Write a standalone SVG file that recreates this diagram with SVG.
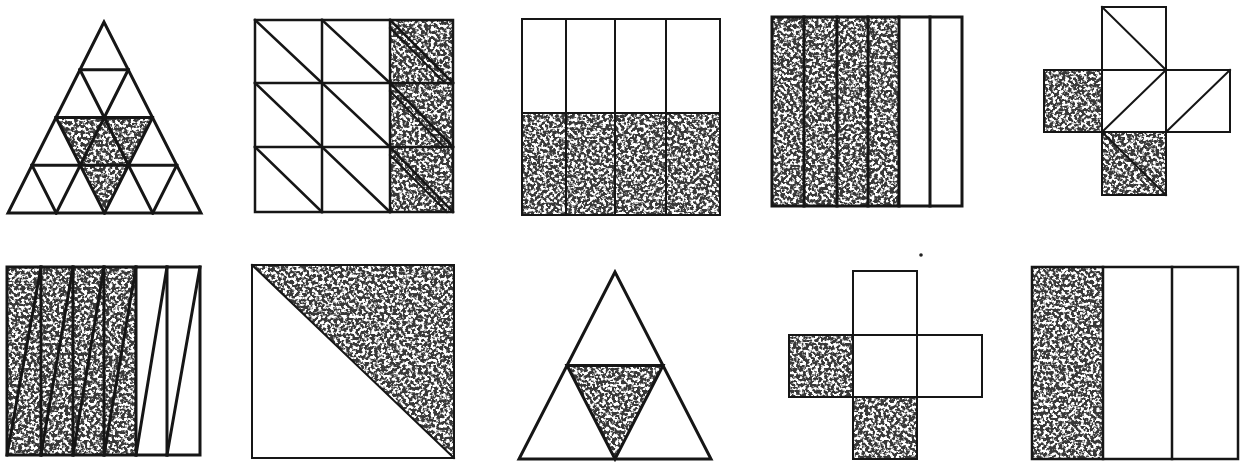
<svg xmlns="http://www.w3.org/2000/svg" width="1243" height="462" viewBox="0 0 1243 462">
<defs>
<filter id="stipple" filterUnits="userSpaceOnUse" x="0" y="0" width="1243" height="462">
<feTurbulence type="fractalNoise" baseFrequency="0.32" numOctaves="2" seed="7" result="n"/>
<feColorMatrix in="n" type="matrix" values="0 0 0 0 0.04  0 0 0 0 0.04  0 0 0 0 0.04  7 0 0 0 -2.85" result="m"/>
<feComposite in="m" in2="SourceGraphic" operator="in"/>
</filter>
</defs>
<style>
.ln{fill:none;stroke:#161616;stroke-linejoin:miter;stroke-linecap:square}
.w3{stroke-width:3}
.w25{stroke-width:2.5}
.w2{stroke-width:2}
.sh{fill:#fff;stroke:none}
</style>
<rect width="1243" height="462" fill="#fff"/>
<g id="shading" filter="url(#stipple)">
<polygon class="sh" points="56,117.5 152.5,117.5 104.5,213"/>
<rect class="sh" x="390" y="20" width="63" height="192"/>
<rect class="sh" x="522" y="113" width="198" height="102"/>
<rect class="sh" x="772" y="17" width="127" height="189"/>
<rect class="sh" x="1044" y="70" width="58" height="62"/>
<rect class="sh" x="1102" y="132" width="64" height="63"/>
<rect class="sh" x="7" y="267" width="129" height="188"/>
<polygon class="sh" points="252,265 454,265 454,458"/>
<polygon class="sh" points="567,365.5 663,365.5 615,459"/>
<rect class="sh" x="789" y="335" width="64" height="62"/>
<rect class="sh" x="853" y="397" width="64" height="62"/>
<rect class="sh" x="1032" y="267" width="71" height="192"/>
</g>
<g id="fig1" class="ln w3">
<polygon points="104,22 8,213 201,213"/>
<path d="M80,69.75H128.25M56,117.5H152.5M32,165.25H176.75"/>
<path d="M56.25,213L128.25,69.75M104.5,213L152.5,117.5M152.75,213L176.75,165.25"/>
<path d="M152.75,213L80,69.75M104.5,213L56,117.5M56.25,213L32,165.25"/>
</g>
<g id="fig2" class="ln w25">
<rect x="255" y="20" width="198" height="192"/>
<path d="M322,20V212M390,20V212M255,83H453M255,147H453"/>
<path d="M255,20L322,83M322,20L390,83M390,20L453,83M255,83L322,147M322,83L390,147M390,83L453,147M255,147L322,212M322,147L390,212M390,147L453,212"/>
<path d="M390,28L445,83M390,91L444,147M390,155L447,212" stroke-width="2"/>
</g>
<g id="fig3" class="ln w2">
<rect x="522" y="19" width="198" height="196"/>
<path d="M566,19V215M615,19V215M666,19V215M522,113H720"/>
</g>
<g id="fig4" class="ln w3">
<rect x="772" y="17" width="190" height="189"/>
<path d="M804,17V206M837,17V206M868,17V206M899,17V206M930,17V206"/>
</g>
<g id="fig5" class="ln w2">
<rect x="1102" y="7" width="64" height="63"/>
<rect x="1044" y="70" width="58" height="62"/>
<rect x="1102" y="70" width="64" height="62"/>
<rect x="1166" y="70" width="64" height="62"/>
<rect x="1102" y="132" width="64" height="63"/>
<path d="M1102,7L1166,70M1102,132L1166,70M1166,132L1230,70M1102,132L1166,195"/>
</g>
<g id="fig6" class="ln w3">
<rect x="7" y="267" width="193" height="188"/>
<path d="M41,267V455M73,267V455M104,267V455M136,267V455M167,267V455"/>
<path d="M7,455L41,267M41,455L73,267M73,455L104,267M104,455L136,267M136,455L167,267M167,455L200,267"/>
</g>
<g id="fig7" class="ln w2">
<rect x="252" y="265" width="202" height="193"/>
<path d="M252,265L454,458"/>
</g>
<g id="fig8" class="ln w3">
<polygon points="615,272 519,459 711,459"/>
<polygon points="567,365.5 663,365.5 615,459"/>
</g>
<g id="fig9" class="ln w2">
<rect x="853" y="271" width="64" height="64"/>
<rect x="789" y="335" width="64" height="62"/>
<rect x="853" y="335" width="64" height="62"/>
<rect x="917" y="335" width="65" height="62"/>
<rect x="853" y="397" width="64" height="62"/>
<circle cx="921" cy="255" r="1.8" fill="#222" stroke="none"/>
</g>
<g id="fig10" class="ln w25">
<rect x="1032" y="267" width="206" height="192"/>
<path d="M1103,267V459M1172,267V459"/>
</g>
</svg>
